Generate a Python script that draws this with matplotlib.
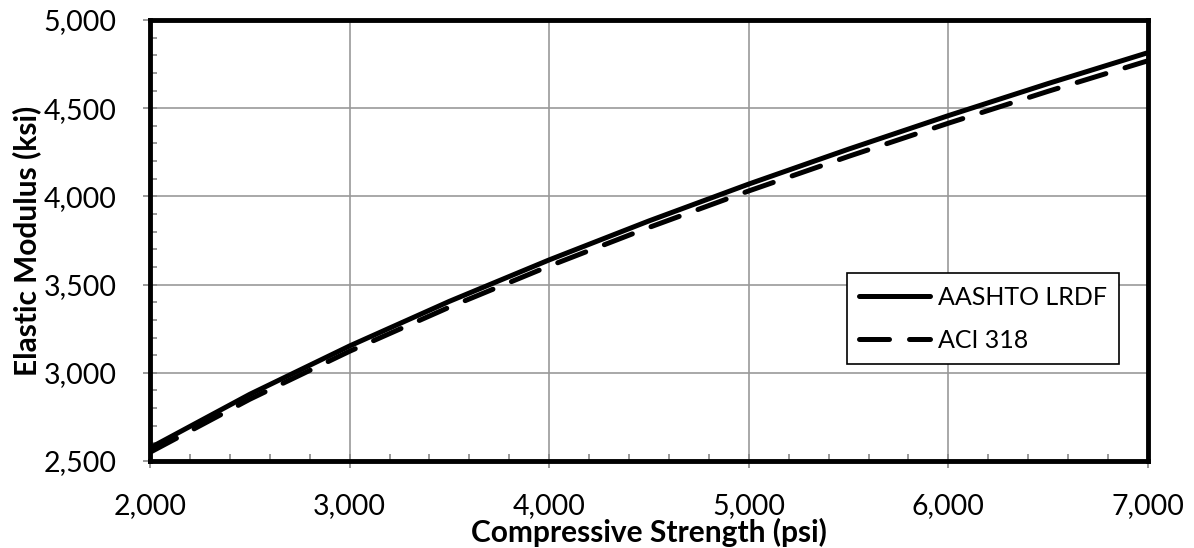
import matplotlib
matplotlib.use("Agg")
import matplotlib.pyplot as plt
from matplotlib.ticker import MultipleLocator, FuncFormatter

# compressive strength (psi) and elastic modulus (ksi)
strength = [2000, 2500, 3000, 3500, 4000, 4500, 5000, 5500, 6000, 6500, 7000]
aashto = [2574, 2878, 3152, 3405, 3640, 3861, 4070, 4268, 4458, 4640, 4815]
aci = [2549, 2850, 3122, 3372, 3605, 3824, 4031, 4227, 4415, 4596, 4769]

plt.rcParams['font.family'] = ['Lato', 'DejaVu Sans']

fig = plt.figure(figsize=(11.94, 5.48), dpi=100)
ax = fig.add_axes([0.1256, 0.1588, 0.8359, 0.8047])

ax.plot(strength, aashto, color='black', lw=3.6, solid_capstyle='round', label='AASHTO LRDF', zorder=3)
ax.plot(strength, aci, color='black', lw=3.6, dashes=(6, 4), dash_capstyle='round', label='ACI 318', zorder=3)

ax.set_xlim(2000, 7000)
ax.set_ylim(2500, 5000)
ax.xaxis.set_major_locator(MultipleLocator(1000))
ax.xaxis.set_minor_locator(MultipleLocator(200))
ax.yaxis.set_major_locator(MultipleLocator(500))
ax.yaxis.set_minor_locator(MultipleLocator(100))
fmt = FuncFormatter(lambda v, p: f"{v:,.0f}")
ax.xaxis.set_major_formatter(fmt)
ax.yaxis.set_major_formatter(fmt)

ax.grid(which='major', color='#999999', lw=1.2)
ax.tick_params(axis='x', which='major', direction='inout', length=10, width=1.2,
               color='#888888', labelsize=20.5, pad=18)
ax.tick_params(axis='y', which='major', direction='inout', length=10, width=1.2,
               color='#888888', labelsize=20.5, pad=19)
ax.tick_params(which='minor', direction='in', length=5, width=1.2, color='#888888')

for s in ax.spines.values():
    s.set_color('black')
    s.set_linewidth(3.5)

ax.set_xlabel('Compressive Strength (psi)', fontsize=21.5, fontweight='bold')
ax.xaxis.set_label_coords(0.5, -0.128)
ax.set_ylabel('Elastic Modulus (ksi)', fontsize=21.5, fontweight='bold', labelpad=2)

leg = ax.legend(loc='upper left', bbox_to_anchor=(0.698, 0.426), borderaxespad=0,
                fontsize=18, fancybox=False, framealpha=1, edgecolor='black',
                handlelength=2.85, handletextpad=0.3, borderpad=0.5, labelspacing=0.8)
leg.get_frame().set_linewidth(1.2)

fig.savefig('out.png', dpi=100)
